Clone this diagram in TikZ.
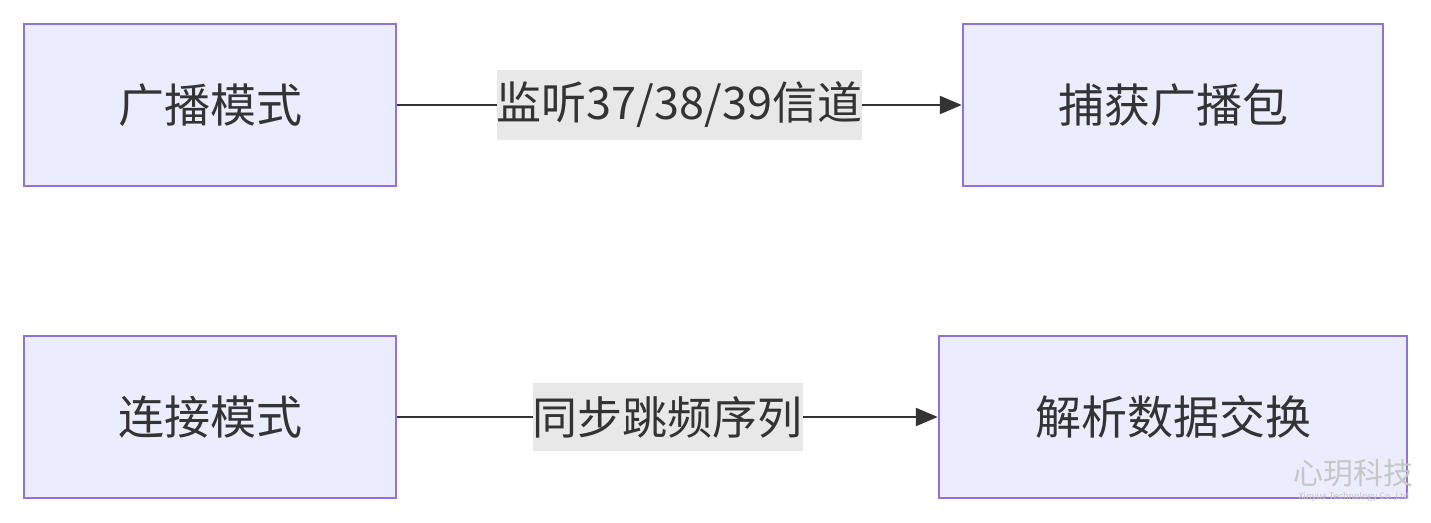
\documentclass[tikz,border=0pt]{standalone}
\usepackage{fontspec}
\setmainfont{Noto Sans CJK SC}
\usetikzlibrary{arrows.meta}
\definecolor{boxfill}{HTML}{ECECFF}
\definecolor{boxline}{HTML}{9370DB}
\definecolor{edge}{HTML}{333333}
\definecolor{lblbg}{HTML}{E8E8E8}
\begin{document}
\begin{tikzpicture}[x=1pt,y=-1pt,
  box/.style={draw=boxline,line width=2.5pt,fill=boxfill,inner sep=0pt,font=\fontsize{46}{54}\selectfont,text=edge},
  lbl/.style={fill=lblbg,inner xsep=0pt,inner ysep=0pt,font=\fontsize{45}{52}\selectfont,text=edge},
  conn/.style={draw=edge,line width=2.2pt,-{Triangle[length=22pt,width=18pt]}}]
\useasboundingbox (0,0) rectangle (1431,522);
\node[box,minimum width=372pt,minimum height=162pt] (a) at (210,105) {广播模式};
\node[box,minimum width=420pt,minimum height=162pt] (b) at (1173,105) {捕获广播包};
\node[box,minimum width=372pt,minimum height=162pt] (c) at (210,417) {连接模式};
\node[box,minimum width=468pt,minimum height=162pt] (d) at (1173,417) {解析数据交换};
\draw[conn] (a) -- node[lbl,minimum height=70pt]{监听37/38/39信道} (b);
\draw[conn] (c) -- node[lbl,minimum height=68pt]{同步跳频序列} (d);
\node[text=gray!45,font=\fontsize{30}{34}\selectfont,anchor=west] (w) at (1290,473) {心玥科技};
\node[text=gray!45,font=\fontsize{9}{10}\selectfont,anchor=west] (w2) at (1295,497) {Xinyue Technology Co.,Ltd};
\end{tikzpicture}
\end{document}
